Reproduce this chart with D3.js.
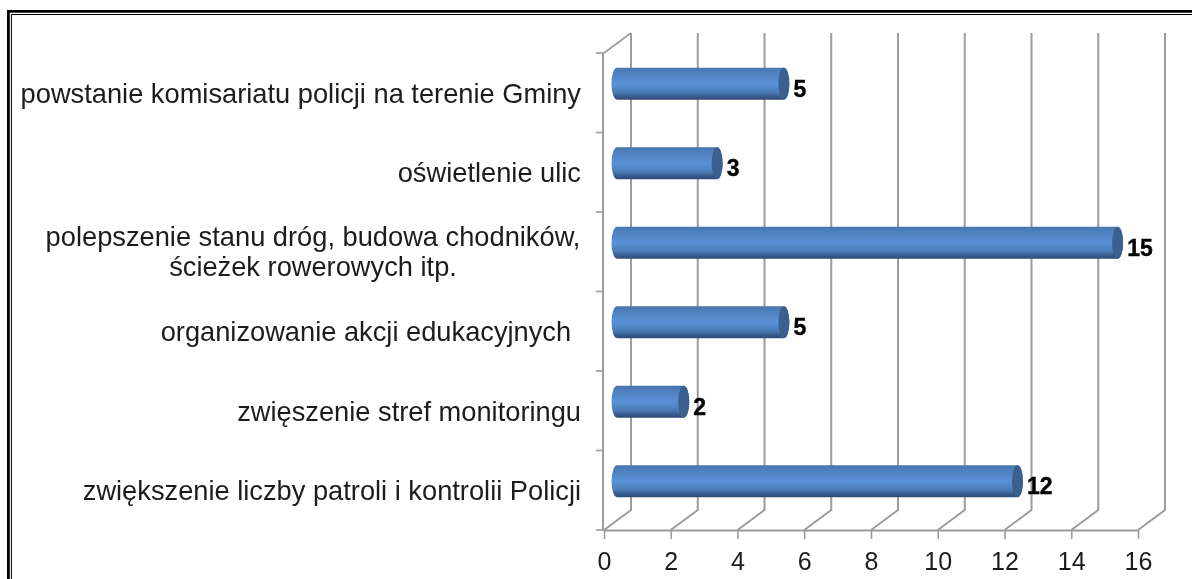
<!DOCTYPE html>
<html>
<head>
<meta charset="utf-8">
<script src="https://cdnjs.cloudflare.com/ajax/libs/d3/7.8.5/d3.min.js"></script>
<style>
html, body { margin: 0; padding: 0; background: #fff; overflow: hidden; }
svg { display: block; }
text { font-family: "Liberation Sans", Arial, sans-serif; fill: #1c1c1c; }
</style>
</head>
<body>
<svg id="chart" width="1192" height="579"></svg>
<script>
// top category first, same order as the picture
var categories = [
    "powstanie komisariatu policji na terenie Gminy",
    "oświetlenie ulic",
    "polepszenie stanu dróg, budowa chodników,\nścieżek rowerowych itp.",
    "organizowanie akcji edukacyjnych\u00a0\u200a",
    "zwięszenie stref monitoringu",
    "zwiększenie liczby patroli i kontrolii Policji"
];
var values = [5, 3, 15, 5, 2, 12];
var xTicks = [0, 2, 4, 6, 8, 10, 12, 14, 16];

var svg = d3.select("#chart"),
    left = 604, right = 1138, top_ = 53, bottom = 530,
    depthX = 27, depthY = -20,
    capRx = 5.5;

// page border: no right or bottom side in the picture
svg.append("path")
    .attr("d", "M8.4,579V11.4H1192")
    .attr("fill", "none").attr("stroke", "#000").attr("stroke-width", 2.8);
svg.append("path")
    .attr("d", "M11.4,579V14.5H1192")
    .attr("fill", "none").attr("stroke", "#000").attr("stroke-width", 1);

var defs = svg.append("defs");
defs.append("filter").attr("id", "soft")
    .attr("x", "-2%").attr("y", "-2%").attr("width", "104%").attr("height", "104%")
    .append("feGaussianBlur").attr("stdDeviation", 0.5);

var grad = defs.append("linearGradient").attr("id", "cyl")
    .attr("x1", 0).attr("y1", 0).attr("x2", 0).attr("y2", 1);
grad.append("stop").attr("offset", "0%").attr("stop-color", "#4875aa");
grad.append("stop").attr("offset", "10%").attr("stop-color", "#4b7db9");
grad.append("stop").attr("offset", "50%").attr("stop-color", "#5a92d6");
grad.append("stop").attr("offset", "76%").attr("stop-color", "#4a7db8");
grad.append("stop").attr("offset", "92%").attr("stop-color", "#35588a");
grad.append("stop").attr("offset", "100%").attr("stop-color", "#2d4b75");

var x = d3.scaleLinear().domain([0, 16]).range([left, right]);
var y = d3.scaleBand().domain(categories).range([top_, bottom])
    .paddingInner(0.6).paddingOuter(0.3);

var g = svg.append("g").attr("filter", "url(#soft)");
var wallColor = "#9c9c9c";

// back wall gridlines + floor diagonals
g.append("g").selectAll("path")
    .data(xTicks)
    .enter().append("path")
    .attr("d", function(d) {
        return "M" + x(d) + "," + bottom +
            "L" + (x(d) + depthX) + "," + (bottom + depthY) +
            "V" + (top_ + depthY);
    })
    .attr("fill", "none")
    .attr("stroke", wallColor)
    .attr("stroke-width", 2);

// side wall top edge
g.append("path")
    .attr("d", "M" + left + "," + top_ + "L" + (left + depthX) + "," + (top_ + depthY))
    .attr("fill", "none").attr("stroke", wallColor).attr("stroke-width", 1.6);

// front axis
var xAxis = d3.axisBottom(x).tickValues(xTicks).tickSize(9).tickPadding(13).tickSizeOuter(0);
var xG = g.append("g").attr("transform", "translate(0," + bottom + ")").call(xAxis);
xG.select(".domain").attr("stroke", wallColor).attr("stroke-width", 2);
xG.selectAll("line").attr("stroke", wallColor).attr("stroke-width", 1.6);
xG.selectAll("text").attr("font-size", 25).attr("fill", "#1c1c1c")
    .style("font-family", '"Liberation Sans", Arial, sans-serif');

// category axis, ticks sit between the bands
var boundaries = d3.range(categories.length + 1).map(function(i) { return top_ + i * y.step(); });
g.append("line").attr("x1", left - 1).attr("x2", left - 1).attr("y1", top_).attr("y2", bottom)
    .attr("stroke", wallColor).attr("stroke-width", 2);
g.append("g").selectAll("line")
    .data(boundaries)
    .enter().append("line")
    .attr("x1", left - 8).attr("x2", left)
    .attr("y1", function(d) { return d; })
    .attr("y2", function(d) { return d; })
    .attr("stroke", wallColor).attr("stroke-width", 1.6);

// category labels
var labels = g.append("g").selectAll("text")
    .data(categories)
    .enter().append("text")
    .attr("text-anchor", "end")
    .attr("font-size", 27.25);

labels.each(function(d) {
    var lines = d.split("\n"),
        cy = y(d) + y.bandwidth() / 2 + (lines.length > 1 ? 1 : 2);
    d3.select(this).selectAll("tspan")
        .data(lines)
        .enter().append("tspan")
        .attr("x", 581)
        .attr("y", function(l, i) { return cy + (i - (lines.length - 1) / 2) * 30 + 8; })
        .text(function(l) { return l; });
});
// the two-line label is centred on itself
labels.filter(function(d) { return d.indexOf("\n") >= 0; })
    .attr("text-anchor", "middle").selectAll("tspan").attr("x", 313);

// bars as horizontal cylinders
var bars = g.append("g").selectAll("g")
    .data(values)
    .enter().append("g")
    .attr("transform", function(d, i) {
        return "translate(0," + (y(categories[i]) - 9) + ")";
    });

var h = y.bandwidth();
bars.append("path")
    .attr("d", function(d) {
        var x0 = x(0) + 13, x1 = x(d) + 13;
        return "M" + x0 + ",0H" + x1 +
            "A" + capRx + "," + (h / 2) + " 0 0 1 " + x1 + "," + h +
            "H" + x0 +
            "A" + capRx + "," + (h / 2) + " 0 0 1 " + x0 + ",0Z";
    })
    .attr("fill", "url(#cyl)");

bars.append("ellipse")
    .attr("cx", function(d) { return x(d) + 13; })
    .attr("cy", h / 2)
    .attr("rx", capRx)
    .attr("ry", h / 2)
    .attr("fill", "#3b5e8f");

bars.append("text")
    .attr("x", function(d) { return x(d) + 13 + capRx + 4; })
    .attr("y", h / 2 + 13)
    .attr("font-size", 23)
    .attr("font-weight", "bold")
    .style("fill", "#000")
    .style("stroke", "#000")
    .style("stroke-width", 0.4)
    .text(function(d) { return d; });
</script>
</body>
</html>
